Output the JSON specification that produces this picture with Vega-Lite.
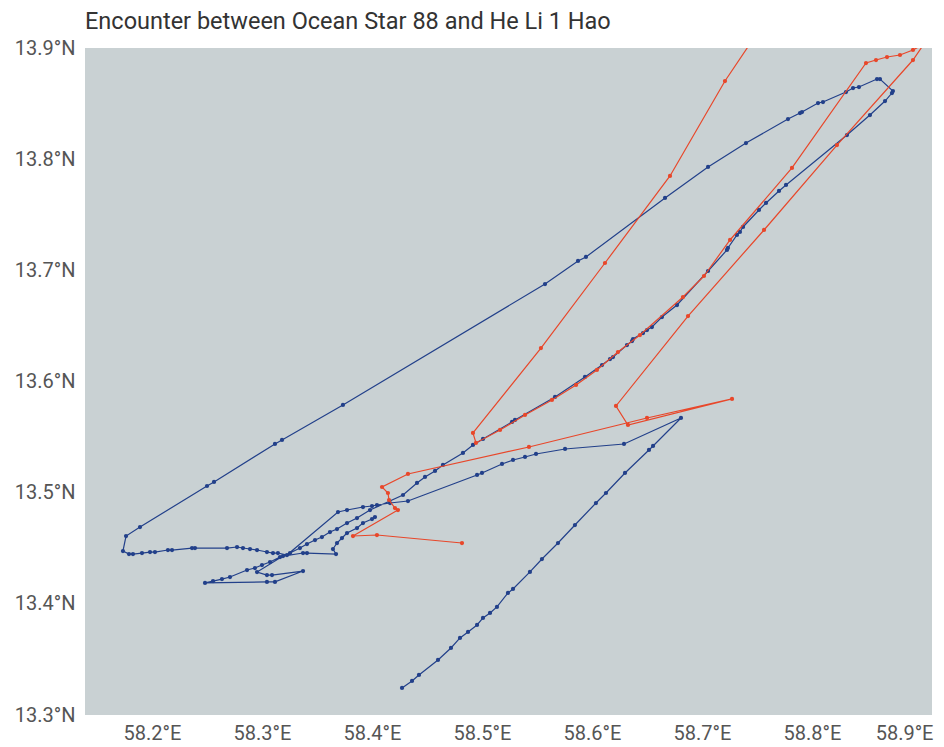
{
"$schema": "https://vega.github.io/schema/vega-lite/v6.json",
"width": 847, "height": 667,
"autosize": {"type": "none"},
"padding": {"left": 85, "top": 48, "right": 12, "bottom": 32},
"background": "white",
"title": {"text": "Encounter between Ocean Star 88 and He Li 1 Hao", "anchor": "start", "frame": "group", "fontSize": 23.5, "fontWeight": "normal", "color": "#333333", "font": "Roboto", "offset": 5},
"config": {"view": {"fill": "#c9d1d3", "stroke": null}, "font": "Roboto"},
"datasets": {
"blue": [
{"seq":1,"lon":58.4273,"lat":13.3243},{"seq":2,"lon":58.4364,"lat":13.3306},{"seq":3,"lon":58.4427,"lat":13.3360},{"seq":4,"lon":58.4600,"lat":13.3495},{"seq":5,"lon":58.4718,"lat":13.3603},{"seq":6,"lon":58.4800,"lat":13.3693},{"seq":7,"lon":58.4873,"lat":13.3747},{"seq":8,"lon":58.4955,"lat":13.3810},{"seq":9,"lon":58.5009,"lat":13.3873},{"seq":10,"lon":58.5073,"lat":13.3918},{"seq":11,"lon":58.5136,"lat":13.3972},{"seq":12,"lon":58.5236,"lat":13.4098},{"seq":13,"lon":58.5282,"lat":13.4134},{"seq":14,"lon":58.5436,"lat":13.4287},{"seq":15,"lon":58.5545,"lat":13.4403},{"seq":16,"lon":58.5691,"lat":13.4547},{"seq":17,"lon":58.5845,"lat":13.4709},{"seq":18,"lon":58.6036,"lat":13.4907},{"seq":19,"lon":58.6127,"lat":13.4997},{"seq":20,"lon":58.6300,"lat":13.5177},{"seq":21,"lon":58.6518,"lat":13.5384},{"seq":22,"lon":58.6555,"lat":13.5420},{"seq":23,"lon":58.6809,"lat":13.5672},
{"seq":24,"lon":58.6291,"lat":13.5438},{"seq":25,"lon":58.5755,"lat":13.5393},{"seq":26,"lon":58.5491,"lat":13.5348},{"seq":27,"lon":58.5391,"lat":13.5321},{"seq":28,"lon":58.5282,"lat":13.5294},{"seq":29,"lon":58.5182,"lat":13.5258},{"seq":30,"lon":58.5000,"lat":13.5177},{"seq":31,"lon":58.4955,"lat":13.5159},{"seq":32,"lon":58.4327,"lat":13.4925},{"seq":33,"lon":58.4164,"lat":13.4907},{"seq":34,"lon":58.4045,"lat":13.4889},{"seq":35,"lon":58.4000,"lat":13.4880},{"seq":36,"lon":58.3918,"lat":13.4871},{"seq":37,"lon":58.3773,"lat":13.4844},{"seq":38,"lon":58.3691,"lat":13.4826},
{"seq":39,"lon":58.3227,"lat":13.4439},{"seq":40,"lon":58.3145,"lat":13.4457},{"seq":41,"lon":58.3100,"lat":13.4457},{"seq":42,"lon":58.3045,"lat":13.4466},{"seq":43,"lon":58.2955,"lat":13.4484},{"seq":44,"lon":58.2891,"lat":13.4493},{"seq":45,"lon":58.2827,"lat":13.4502},{"seq":46,"lon":58.2773,"lat":13.4511},{"seq":47,"lon":58.2682,"lat":13.4502},{"seq":48,"lon":58.2391,"lat":13.4502},{"seq":49,"lon":58.2364,"lat":13.4502},{"seq":50,"lon":58.2182,"lat":13.4484},{"seq":51,"lon":58.2145,"lat":13.4484},{"seq":52,"lon":58.2027,"lat":13.4466},{"seq":53,"lon":58.1982,"lat":13.4466},{"seq":54,"lon":58.1909,"lat":13.4457},{"seq":55,"lon":58.1827,"lat":13.4448},{"seq":56,"lon":58.1791,"lat":13.4448},{"seq":57,"lon":58.1736,"lat":13.4475},{"seq":58,"lon":58.1764,"lat":13.4610},{"seq":59,"lon":58.1891,"lat":13.4691},
{"seq":60,"lon":58.2500,"lat":13.5060},{"seq":61,"lon":58.2564,"lat":13.5096},{"seq":62,"lon":58.3118,"lat":13.5438},{"seq":63,"lon":58.3182,"lat":13.5474},{"seq":64,"lon":58.3736,"lat":13.5789},{"seq":65,"lon":58.5573,"lat":13.6877},{"seq":66,"lon":58.5873,"lat":13.7084},{"seq":67,"lon":58.5945,"lat":13.7120},{"seq":68,"lon":58.6664,"lat":13.7651},{"seq":69,"lon":58.7055,"lat":13.7930},{"seq":70,"lon":58.7400,"lat":13.8145},{"seq":71,"lon":58.7782,"lat":13.8361},{"seq":72,"lon":58.7891,"lat":13.8415},{"seq":73,"lon":58.7909,"lat":13.8424},{"seq":74,"lon":58.8055,"lat":13.8505},{"seq":75,"lon":58.8100,"lat":13.8514},{"seq":76,"lon":58.8309,"lat":13.8604},{"seq":77,"lon":58.8373,"lat":13.8640},{"seq":78,"lon":58.8427,"lat":13.8649},{"seq":79,"lon":58.8591,"lat":13.8721},{"seq":80,"lon":58.8618,"lat":13.8721},
{"seq":81,"lon":58.8736,"lat":13.8613},{"seq":82,"lon":58.8727,"lat":13.8595},{"seq":83,"lon":58.8664,"lat":13.8523},{"seq":84,"lon":58.8527,"lat":13.8397},{"seq":85,"lon":58.8318,"lat":13.8217},{"seq":86,"lon":58.7764,"lat":13.7768},{"seq":87,"lon":58.7700,"lat":13.7714},{"seq":88,"lon":58.7582,"lat":13.7606},{"seq":89,"lon":58.7518,"lat":13.7543},{"seq":90,"lon":58.7373,"lat":13.7390},{"seq":91,"lon":58.7345,"lat":13.7345},{"seq":92,"lon":58.7318,"lat":13.7318},{"seq":93,"lon":58.7236,"lat":13.7201},{"seq":94,"lon":58.7227,"lat":13.7183},{"seq":95,"lon":58.7055,"lat":13.6994},{"seq":96,"lon":58.6773,"lat":13.6688},{"seq":97,"lon":58.6636,"lat":13.6580},{"seq":98,"lon":58.6545,"lat":13.6490},{"seq":99,"lon":58.6500,"lat":13.6463},{"seq":100,"lon":58.6464,"lat":13.6436},{"seq":101,"lon":58.6373,"lat":13.6382},{"seq":102,"lon":58.6364,"lat":13.6364},{"seq":103,"lon":58.6318,"lat":13.6328},{"seq":104,"lon":58.6191,"lat":13.6220},{"seq":105,"lon":58.6164,"lat":13.6202},{"seq":106,"lon":58.6091,"lat":13.6148},{"seq":107,"lon":58.5936,"lat":13.6041},{"seq":108,"lon":58.5664,"lat":13.5861},{"seq":109,"lon":58.5300,"lat":13.5654},{"seq":110,"lon":58.5273,"lat":13.5636},{"seq":111,"lon":58.5009,"lat":13.5483},{"seq":112,"lon":58.4918,"lat":13.5429},
{"seq":113,"lon":58.4827,"lat":13.5357},{"seq":114,"lon":58.4645,"lat":13.5249},{"seq":115,"lon":58.4573,"lat":13.5195},{"seq":116,"lon":58.4482,"lat":13.5141},{"seq":117,"lon":58.4409,"lat":13.5087},{"seq":118,"lon":58.4282,"lat":13.4979},{"seq":119,"lon":58.3982,"lat":13.4844},{"seq":120,"lon":58.3864,"lat":13.4772},{"seq":121,"lon":58.3773,"lat":13.4727},{"seq":122,"lon":58.3682,"lat":13.4673},{"seq":123,"lon":58.3618,"lat":13.4646},{"seq":124,"lon":58.3545,"lat":13.4601},{"seq":125,"lon":58.3482,"lat":13.4574},{"seq":126,"lon":58.3409,"lat":13.4538},{"seq":127,"lon":58.3345,"lat":13.4502},{"seq":128,"lon":58.3255,"lat":13.4457},{"seq":129,"lon":58.3164,"lat":13.4421},{"seq":130,"lon":58.3073,"lat":13.4376},{"seq":131,"lon":58.3000,"lat":13.4349},{"seq":132,"lon":58.2936,"lat":13.4322},{"seq":133,"lon":58.2864,"lat":13.4304},{"seq":134,"lon":58.2709,"lat":13.4241},{"seq":135,"lon":58.2636,"lat":13.4223},{"seq":136,"lon":58.2555,"lat":13.4205},{"seq":137,"lon":58.2482,"lat":13.4188},
{"seq":138,"lon":58.3045,"lat":13.4197},{"seq":139,"lon":58.3118,"lat":13.4197},{"seq":140,"lon":58.3373,"lat":13.4295},{"seq":141,"lon":58.3091,"lat":13.4259},{"seq":142,"lon":58.3045,"lat":13.4259},{"seq":143,"lon":58.2955,"lat":13.4286},{"seq":144,"lon":58.3191,"lat":13.4430},{"seq":145,"lon":58.3373,"lat":13.4457},{"seq":146,"lon":58.3409,"lat":13.4457},{"seq":147,"lon":58.3673,"lat":13.4448},{"seq":148,"lon":58.3645,"lat":13.4493},{"seq":149,"lon":58.3682,"lat":13.4547},{"seq":150,"lon":58.3727,"lat":13.4592},{"seq":151,"lon":58.3773,"lat":13.4637},{"seq":152,"lon":58.3864,"lat":13.4682},{"seq":153,"lon":58.3918,"lat":13.4727},{"seq":154,"lon":58.4000,"lat":13.4763},{"seq":155,"lon":58.4027,"lat":13.4781}
],
"red": [
{"seq":1,"lon":58.4818,"lat":13.4547},{"seq":2,"lon":58.4045,"lat":13.4619},{"seq":3,"lon":58.3827,"lat":13.4610},{"seq":4,"lon":58.4236,"lat":13.4844},{"seq":5,"lon":58.4209,"lat":13.4862},{"seq":6,"lon":58.4155,"lat":13.4934},{"seq":7,"lon":58.4145,"lat":13.4997},{"seq":8,"lon":58.4091,"lat":13.5051},{"seq":9,"lon":58.4327,"lat":13.5168},{"seq":10,"lon":58.5427,"lat":13.5411},{"seq":11,"lon":58.6500,"lat":13.5672},{"seq":12,"lon":58.7273,"lat":13.5843},{"seq":13,"lon":58.6327,"lat":13.5609},{"seq":14,"lon":58.6218,"lat":13.5780},{"seq":15,"lon":58.6873,"lat":13.6589},{"seq":16,"lon":58.7564,"lat":13.7363},{"seq":17,"lon":58.8227,"lat":13.8127},{"seq":18,"lon":58.8918,"lat":13.8892},{"seq":19,"lon":58.9018,"lat":13.9036},{"seq":20,"lon":58.8918,"lat":13.8982},{"seq":21,"lon":58.8800,"lat":13.8937},{"seq":22,"lon":58.8682,"lat":13.8919},{"seq":23,"lon":58.8582,"lat":13.8892},{"seq":24,"lon":58.8491,"lat":13.8865},{"seq":25,"lon":58.7818,"lat":13.7921},{"seq":26,"lon":58.7255,"lat":13.7273},{"seq":27,"lon":58.7018,"lat":13.6949},{"seq":28,"lon":58.6827,"lat":13.6760},{"seq":29,"lon":58.6436,"lat":13.6418},{"seq":30,"lon":58.6236,"lat":13.6265},{"seq":31,"lon":58.6045,"lat":13.6104},{"seq":32,"lon":58.5855,"lat":13.5969},{"seq":33,"lon":58.5636,"lat":13.5834},{"seq":34,"lon":58.5391,"lat":13.5699},{"seq":35,"lon":58.5164,"lat":13.5564},{"seq":36,"lon":58.4945,"lat":13.5447},{"seq":37,"lon":58.4918,"lat":13.5537},{"seq":38,"lon":58.5536,"lat":13.6301},{"seq":39,"lon":58.6118,"lat":13.7066},{"seq":40,"lon":58.6709,"lat":13.7849},{"seq":41,"lon":58.7209,"lat":13.8703},{"seq":42,"lon":58.7582,"lat":13.9252}
]
},
"encoding": {
"x": {"field": "lon", "type": "quantitative", "scale": {"domain": [58.1391, 58.9091], "nice": false, "zero": false},
 "axis": {"title": null, "values": [58.2, 58.3, 58.4, 58.5, 58.6, 58.7, 58.8, 58.9], "labelExpr": "format(datum.value, '.1f') + '°E'", "domain": false, "ticks": false, "grid": false, "labelFontSize": 20, "labelColor": "#555555", "labelPadding": 8, "labelFlush": 15, "labelFlushOffset": 11}},
"y": {"field": "lat", "type": "quantitative", "scale": {"domain": [13.3, 13.9], "nice": false, "zero": false},
 "axis": {"title": null, "values": [13.3, 13.4, 13.5, 13.6, 13.7, 13.8, 13.9], "labelExpr": "format(datum.value, '.1f') + '°N'", "domain": false, "ticks": false, "grid": false, "labelFontSize": 20, "labelColor": "#555555", "labelPadding": 10, "labelFlush": false}},
"order": {"field": "seq", "type": "quantitative"}
},
"layer": [
{"data": {"name": "blue"}, "mark": {"type": "line", "color": "#22408a", "strokeWidth": 1.2, "clip": true, "point": {"filled": true, "size": 18, "color": "#22408a"}}},
{"data": {"name": "red"}, "mark": {"type": "line", "color": "#e8472a", "strokeWidth": 1.2, "clip": true, "point": {"filled": true, "size": 18, "color": "#e8472a"}}}
]
}
